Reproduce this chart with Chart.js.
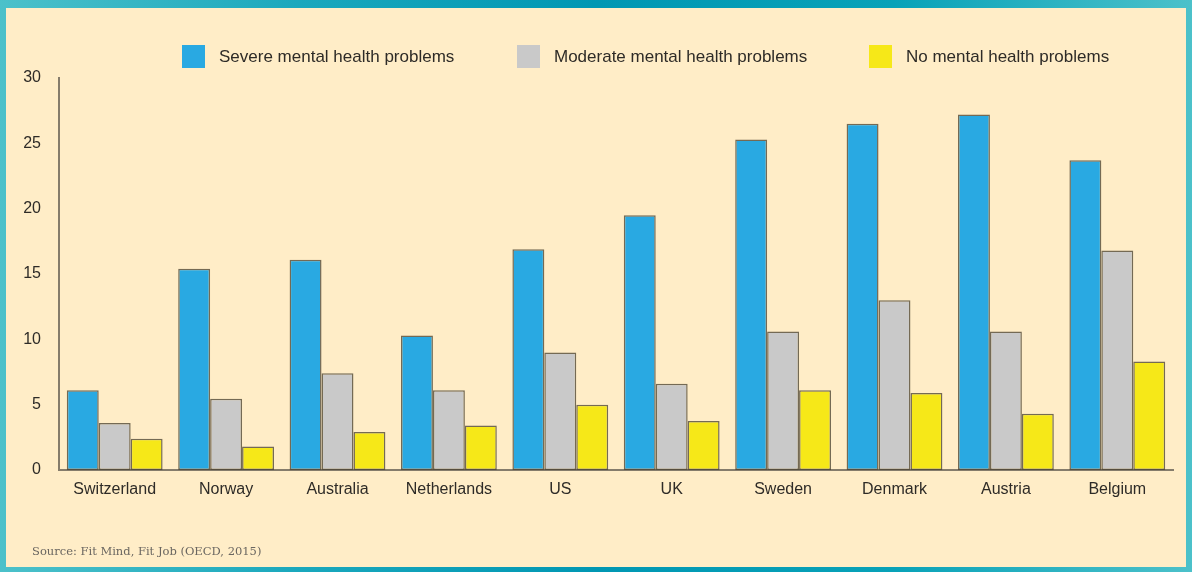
<!DOCTYPE html>
<html lang="en">
<head>
  <meta charset="UTF-8">
  <title>Mental health problems by country</title>
  <script src="https://cdn.jsdelivr.net/npm/chart.js"></script>
  <style>
    html, body { margin: 0; padding: 0; }
    body {
      width: 1192px; height: 572px; position: relative; overflow: hidden;
      background: linear-gradient(90deg, #4cc1ca 0%, #1aa8bd 25%, #0097b3 50%, #08a2b8 75%, #4cc1ca 100%);
    }
    #panel {
      position: absolute; left: 6px; top: 8px; right: 6px; bottom: 5px;
      background: #ffedc7;
    }
    #wrap { position: absolute; left: 0; top: 0; width: 1192px; height: 572px; }
    #source {
      position: absolute; left: 32px; top: 544px;
      font-family: "DejaVu Serif", serif; font-size: 11.5px; color: #6a6660;
    }
  </style>
</head>
<body>
  <div id="panel"></div>
  <div id="wrap"><canvas id="chart" width="1192" height="572"></canvas></div>
  <div id="source">Source: Fit Mind, Fit Job (OECD, 2015)</div>

  <script>
    const countries = ['Switzerland', 'Norway', 'Australia', 'Netherlands', 'US', 'UK', 'Sweden', 'Denmark', 'Austria', 'Belgium'];
    const severe   = [6.1, 15.4, 16.1, 10.3, 16.9, 19.5, 25.3, 26.5, 27.2, 23.7];
    const moderate = [3.6, 5.45, 7.4, 6.1, 9.0, 6.6, 10.6, 13.0, 10.6, 16.8];
    const none     = [2.4, 1.8, 2.9, 3.4, 5.0, 3.75, 6.1, 5.9, 4.3, 8.3];
    const yTicks = [0, 5, 10, 15, 20, 25, 30];

    const FONT = '"Liberation Sans", Arial, sans-serif';
    const TEXT = '#2e2b27';
    const AXIS = '#857c6b';

    // legend drawn by hand so each key sits at its own spot across the top
    const legendX = [182, 517, 869];
    const legendPlugin = {
      id: 'topLegend',
      afterDraw(chart) {
        const ctx = chart.ctx;
        const y = 45, box = 23;
        ctx.save();
        ctx.font = '17px ' + FONT;
        ctx.textBaseline = 'middle';
        chart.data.datasets.forEach((ds, i) => {
          const x = legendX[i];
          ctx.fillStyle = ds.backgroundColor;
          ctx.fillRect(x, y, box, box);
          ctx.fillStyle = TEXT;
          ctx.fillText(ds.label, x + box + 14, y + box / 2 + 1);
        });
        ctx.restore();
      }
    };

    new Chart(document.getElementById('chart'), {
      type: 'bar',
      data: {
        labels: countries,
        datasets: [
          { label: 'Severe mental health problems', data: severe, backgroundColor: '#29a9e2' },
          { label: 'Moderate mental health problems', data: moderate, backgroundColor: '#c9c9c9' },
          { label: 'No mental health problems', data: none, backgroundColor: '#f6e818' }
        ]
      },
      options: {
        responsive: false,
        animation: false,
        layout: { padding: { left: 0, right: 19, top: 78, bottom: 72 } },
        datasets: {
          bar: {
            categoryPercentage: 0.86,
            barPercentage: 1,
            borderWidth: 1.5,
            borderColor: 'rgba(70,62,45,0.75)',
            borderSkipped: false
          }
        },
        plugins: {
          legend: { display: false },
          tooltip: { enabled: false }
        },
        scales: {
          x: {
            grid: { display: false, drawTicks: false },
            border: { color: AXIS, width: 2 },
            ticks: { color: TEXT, font: { family: FONT, size: 16 }, padding: 10 },
            afterFit: s => { s.height = 30; }
          },
          y: {
            min: 0, max: 30,
            grid: { display: false, drawTicks: false },
            border: { color: AXIS, width: 2 },
            afterBuildTicks: s => { s.ticks = yTicks.map(v => ({ value: v })); },
            ticks: { color: TEXT, font: { family: FONT, size: 16 }, padding: 18 },
            afterFit: s => { s.width = 59; }
          }
        }
      },
      plugins: [legendPlugin]
    });
  </script>
</body>
</html>
